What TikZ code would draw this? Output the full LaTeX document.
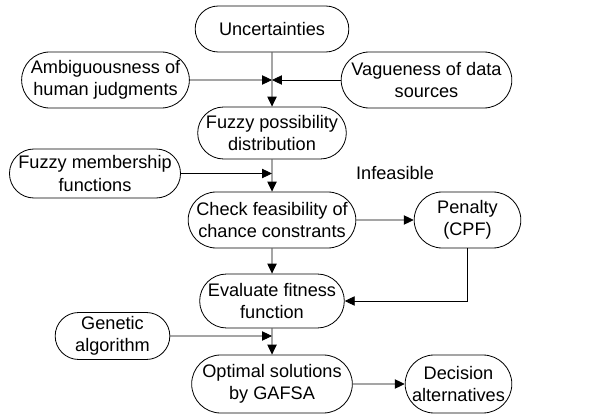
\documentclass[tikz,border=0pt]{standalone}
\usepackage{fontspec}
\setmainfont{Liberation Sans}
\usetikzlibrary{shapes.misc,arrows.meta}
\begin{document}
\begin{tikzpicture}[box/.style={rounded rectangle, draw, line width=0.7pt, align=center, inner sep=1pt,
      font=\fontsize{15.5}{19}\selectfont},
    arr/.style={line width=0.7pt, -{Triangle[length=8.5pt,width=8pt]}},
    every node/.append style={font=\fontsize{15.5}{19}\selectfont}]
    \useasboundingbox (0,0) rectangle (18.06,-12.42);
    % Input nodes (top row)
    \node[box, minimum width=4.68cm, minimum height=1.38cm] (unc) at (8.16,-0.87)  {Uncertainties};
    \node[box, minimum width=4.95cm, minimum height=1.68cm] (amb) at (3.165,-2.4)  {Ambiguousness of\\human judgments};
    \node[box, minimum width=5.19cm, minimum height=1.68cm] (vag) at (12.795,-2.4) {Vagueness of data\\sources};
    % Main column
    \node[box, minimum width=4.38cm, minimum height=1.56cm] (poss)  at (8.16,-3.99)  {Fuzzy possibility\\distribution};
    \node[box, minimum width=5.10cm, minimum height=1.68cm] (check) at (8.16,-6.6)   {Check feasibility of\\chance constrants};
    \node[box, minimum width=4.41cm, minimum height=1.62cm] (eval)  at (8.16,-9.03)  {Evaluate fitness\\function};
    \node[box, minimum width=4.89cm, minimum height=1.74cm] (opt)   at (8.16,-11.52) {Optimal solutions\\by GAFSA};
    % Side nodes
    \node[box, minimum width=5.10cm, minimum height=1.47cm] (memb) at (2.85,-5.205)  {Fuzzy membership\\functions};
    \node[box, minimum width=3.51cm, minimum height=1.41cm] (gen)  at (3.375,-10.08) {Genetic\\algorithm};
    \node[box, minimum width=3.27cm, minimum height=1.68cm] (pen)  at (14.025,-6.6)  {Penalty\\(CPF)};
    \node[box, minimum width=3.27cm, minimum height=1.74cm] (dec)  at (13.755,-11.52) {Decision\\alternatives};
    \node (infeas) at (11.85,-5.19) {Infeasible};
    % Junctions on the main column
    \coordinate (j1) at (8.16,-2.4);
    \coordinate (j2) at (8.16,-5.205);
    \coordinate (j3) at (8.16,-10.08);
    % Connectors
    \draw[arr] (unc)--(poss);
    \draw[arr] (amb)--(j1);
    \draw[arr] (vag)--(j1);
    \draw[arr] (poss)--(check);
    \draw[arr] (memb)--(j2);
    \draw[arr] (check)--(pen);
    \draw[arr] (check)--(eval);
    \draw[arr] (pen.south) |- (eval.east);
    \draw[arr] (eval)--(opt);
    \draw[arr] (gen)--(j3);
    \draw[arr] (opt)--(dec);
  \end{tikzpicture}
\end{document}
